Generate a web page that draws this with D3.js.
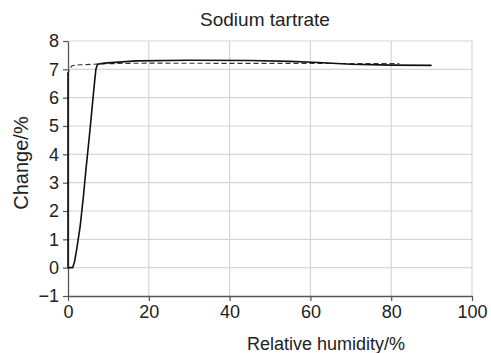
<!DOCTYPE html>
<html>
<head>
<meta charset="utf-8">
<script src="https://cdn.jsdelivr.net/npm/d3@7"></script>
<style>
  body { margin: 0; background: #fff; }
  text { font-family: "Liberation Sans", Arial, Helvetica, sans-serif; fill: #222; }
</style>
</head>
<body>
<svg width="491" height="353"></svg>
<script>
// humidity (x) and change (y) for the two runs
var solidRH = [0, 0, 1.15, 1.6, 2.1, 3.0, 3.8, 4.4, 5.4, 6.4, 6.9, 7.3, 9, 17, 30, 45, 55, 62, 70, 80, 90];
var solidChange = [6.9, 0, 0, 0.2, 0.6, 1.45, 2.5, 3.4, 4.8, 6.3, 7.0, 7.18, 7.22, 7.3, 7.32, 7.31, 7.28, 7.24, 7.18, 7.15, 7.14];
var dashRH = [0, 0.3, 1, 3, 10, 20, 40, 60, 82];
var dashChange = [6.8, 7.0, 7.13, 7.16, 7.2, 7.22, 7.21, 7.21, 7.2];
var xTicks = [0, 20, 40, 60, 80, 100];
var yTicks = [-1, 0, 1, 2, 3, 4, 5, 6, 7, 8];

var svg = d3.select("svg"),
  margin = { top: 41, right: 19, bottom: 57, left: 68 },
  width = 491 - margin.left - margin.right,
  height = 353 - margin.top - margin.bottom;

var x = d3.scaleLinear().domain([0, 100]).range([0, width]),
  y = d3.scaleLinear().domain([-1, 8]).range([height, 0]);

var g = svg.append("g")
  .attr("transform", "translate(" + margin.left + "," + margin.top + ")");

// grid
g.selectAll(".hgrid").data(yTicks.filter(function (d) { return d > -1; }))
  .enter().append("line")
  .attr("x1", 0).attr("x2", width)
  .attr("y1", function (d) { return y(d); }).attr("y2", function (d) { return y(d); })
  .attr("stroke", "#d6d6d6").attr("stroke-width", 1.2);
g.selectAll(".vgrid").data(xTicks.filter(function (d) { return d > 0; }))
  .enter().append("line")
  .attr("y1", 0).attr("y2", height)
  .attr("x1", function (d) { return x(d); }).attr("x2", function (d) { return x(d); })
  .attr("stroke", "#d6d6d6").attr("stroke-width", 1.2);

// axes
var xAxis = g.append("g")
  .attr("transform", "translate(0," + height + ")")
  .call(d3.axisBottom(x).tickValues(xTicks).tickSize(5).tickSizeOuter(0).tickPadding(4));
var yAxis = g.append("g")
  .call(d3.axisLeft(y).tickValues(yTicks).tickSize(5).tickSizeOuter(0).tickPadding(4)
    .tickFormat(function (d) { return d < 0 ? "\u2212" + Math.abs(d) : d; }));
[xAxis, yAxis].forEach(function (a) {
  a.select(".domain").attr("stroke", "#555").attr("stroke-width", 1.3);
  a.selectAll(".tick line").attr("stroke", "#555").attr("stroke-width", 1.2);
  a.selectAll(".tick text").attr("font-size", 18).attr("fill", "#222")
    .style("font-family", "'Liberation Sans', Arial, sans-serif");
});

var line = d3.line()
  .x(function (d) { return x(d[0]); })
  .y(function (d) { return y(d[1]); });

g.append("path")
  .datum(dashRH.map(function (d, i) { return [d, dashChange[i]]; }))
  .attr("d", line)
  .attr("fill", "none").attr("stroke", "#333").attr("stroke-width", 1.1)
  .attr("stroke-dasharray", "5,3");

g.append("path")
  .datum(solidRH.map(function (d, i) { return [d, solidChange[i]]; }))
  .attr("d", line)
  .attr("fill", "none").attr("stroke", "#111").attr("stroke-width", 1.6)
  .attr("stroke-linejoin", "round");

// labels
svg.append("text")
  .attr("x", 265).attr("y", 26)
  .attr("text-anchor", "middle").attr("font-size", 19)
  .text("Sodium tartrate");
svg.append("text")
  .attr("x", 326).attr("y", 350)
  .attr("text-anchor", "middle").attr("font-size", 18)
  .text("Relative humidity/%");
svg.append("text")
  .attr("transform", "translate(28,163) rotate(-90)")
  .attr("text-anchor", "middle").attr("font-size", 20)
  .text("Change/%");
</script>
</body>
</html>
